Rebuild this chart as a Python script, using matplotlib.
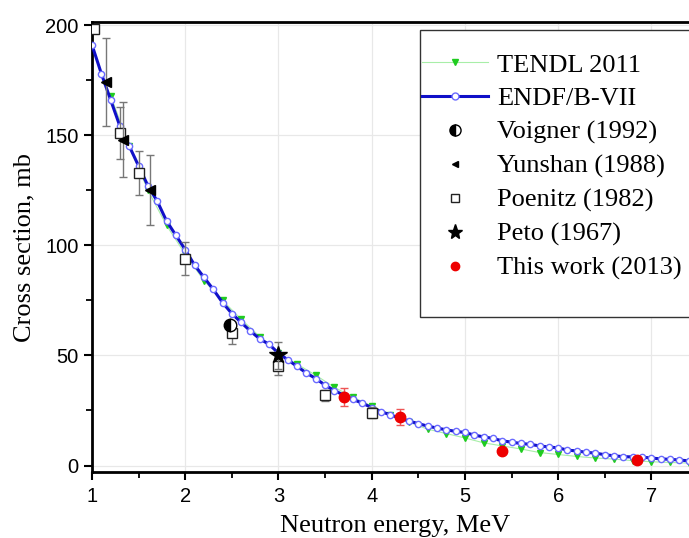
import matplotlib
matplotlib.use("Agg")
import matplotlib.pyplot as plt
from matplotlib.ticker import MultipleLocator
from matplotlib.lines import Line2D
from matplotlib.patches import Rectangle

# ---------------- data ----------------
endf_e = [1.0, 1.1, 1.2, 1.3, 1.4, 1.5, 1.6, 1.7, 1.8, 1.9, 2.0, 2.1, 2.2, 2.3, 2.4,
          2.5, 2.6, 2.7, 2.8, 2.9, 3.0, 3.1, 3.2, 3.3, 3.4, 3.5, 3.6, 3.7, 3.8, 3.9,
          4.0, 4.1, 4.2, 4.3, 4.4, 4.5, 4.6, 4.7, 4.8, 4.9, 5.0, 5.1, 5.2, 5.3, 5.4,
          5.5, 5.6, 5.7, 5.8, 5.9, 6.0, 6.1, 6.2, 6.3, 6.4, 6.5, 6.6, 6.7, 6.8, 6.9,
          7.0, 7.1, 7.2, 7.3, 7.4]
endf_s = [191, 178, 166, 154, 145, 136, 127, 120, 111, 104.5, 98, 91, 85.5, 80, 74,
          69, 65, 61, 57.5, 55, 51, 48, 45, 42, 39.5, 36.5, 34, 32, 30, 28.3,
          26.3, 24.5, 23, 21.5, 20.2, 19, 17.9, 17, 16.2, 15.5, 15, 13.8, 13, 12.3, 11.2,
          10.6, 10, 9.6, 8.9, 8.4, 8, 7, 6.6, 6, 5.6, 4.9, 4.4, 4.0, 3.9, 3.8,
          3.4, 3.0, 2.8, 2.5, 2.1]

tendl_e = [1.2, 1.4, 1.6, 1.8, 2.0, 2.2, 2.4, 2.6, 2.8, 3.0, 3.2, 3.4, 3.6, 3.8, 4.0,
           4.2, 4.4, 4.6, 4.8, 5.0, 5.2, 5.4, 5.6, 5.8, 6.0, 6.2, 6.4, 6.6, 6.8, 7.0,
           7.2, 7.4]
tendl_s = [168, 145, 125, 109, 96, 84, 75, 66.4, 58.5, 51, 46, 41, 35.5, 31, 27,
           23, 19.7, 16.5, 14.5, 12.5, 10.3, 8.9, 7.5, 5.9, 5.0, 4.1, 3.4, 2.9, 2.2, 1.7,
           1.4, 1.1]

voigner_e = [2.48]
voigner_s = [64]

yunshan_e = [1.15, 1.33, 1.62]
yunshan_s = [174, 148, 125]
yunshan_err = [20, 17, 16]

poenitz_e = [1.02, 1.3, 1.5, 2.0, 2.5, 3.0, 3.5, 4.0]
poenitz_s = [198, 151, 133, 94, 60, 45, 32, 24]
poenitz_err = [0, 12, 10, 7.5, 5, 4, 2.5, 2.5]

peto_e = [3.0]
peto_s = [50]
peto_err = [6]

thiswork_e = [3.7, 4.3, 5.4, 6.85]
thiswork_s = [31, 22, 6.5, 2.5]
thiswork_err = [4, 3.8, 0, 0]

legend_labels = ["TENDL 2011", "ENDF/B-VII", "Voigner (1992)", "Yunshan (1988)",
                 "Poenitz (1982)", "Peto (1967)", "This work (2013)"]

# ---------------- figure ----------------
W, H = 689, 538
fig = plt.figure(figsize=(W / 100, H / 100), dpi=100)
ax = fig.add_axes([92 / W, (H - 472) / H, (698 - 92) / W, (472 - 22) / H])

serif = ["Liberation Serif", "DejaVu Serif"]
sans = ["Liberation Sans", "DejaVu Sans"]

ax.grid(True, which="major", color="#e8e8e8", linewidth=0.9, zorder=0)

tendl_style = dict(color="#a8eea8", linewidth=0.8, marker="v",
                   markerfacecolor="#1fcc1f", markeredgecolor="#1fcc1f")
endf_style = dict(color="#1010c8", linewidth=2.2, marker="o",
                  markerfacecolor="white", markeredgecolor="#6a6aff", markeredgewidth=1.0)

ax.plot(tendl_e, tendl_s, markersize=4.5, zorder=3, **tendl_style)
ax.plot(endf_e, endf_s, markersize=4.5, zorder=4, **endf_style)

ax.errorbar(poenitz_e, poenitz_s, yerr=poenitz_err, fmt="s", markersize=6.5,
            markerfacecolor="white", markeredgecolor="#222222", markeredgewidth=1.0,
            ecolor="#777777", elinewidth=1.0, capsize=3, zorder=5)
ax.errorbar(yunshan_e, yunshan_s, yerr=yunshan_err, fmt="<", markersize=6.5,
            color="black", ecolor="#777777", elinewidth=1.0, capsize=3, zorder=6)
ax.plot(voigner_e, voigner_s, linestyle="none", marker="o", markersize=9,
        fillstyle="left", markerfacecolor="black", markerfacecoloralt="white",
        markeredgecolor="black", zorder=6)
ax.errorbar(peto_e, peto_s, yerr=peto_err, fmt="*", markersize=13, color="black",
            ecolor="#777777", elinewidth=1.0, capsize=3, zorder=6)
ax.errorbar(thiswork_e, thiswork_s, yerr=thiswork_err, fmt="o", markersize=7.5,
            color="#ee0000", ecolor="#ee5555", elinewidth=1.0, capsize=3, zorder=7)

ax.set_xlim(1, 7.5)
ax.set_ylim(-2.95, 201.4)
ax.xaxis.set_major_locator(MultipleLocator(1))
ax.xaxis.set_minor_locator(MultipleLocator(0.5))
ax.yaxis.set_major_locator(MultipleLocator(50))
ax.yaxis.set_minor_locator(MultipleLocator(25))
ax.tick_params(which="major", direction="out", length=6, width=1.5, labelsize=14.5)
ax.tick_params(axis="x", which="major", pad=5)
ax.tick_params(which="minor", direction="out", length=4, width=1.3)
for lab in ax.get_xticklabels() + ax.get_yticklabels():
    lab.set_family(sans)
for sp in ax.spines.values():
    sp.set_linewidth(2.0)

ax.set_xlabel("Neutron energy, MeV", fontsize=19, family=serif, labelpad=6)
ax.set_ylabel("Cross section, mb", fontsize=19, family=serif, labelpad=7)

# legend with marker-only proxies (no error bars), framed by a rectangle
handles = [
    Line2D([], [], markersize=5, **tendl_style),
    Line2D([], [], markersize=5, **endf_style),
    Line2D([], [], linestyle="none", marker="o", markersize=8, fillstyle="left",
           markerfacecolor="black", markerfacecoloralt="white", markeredgecolor="black"),
    Line2D([], [], linestyle="none", marker="<", markersize=5, color="black"),
    Line2D([], [], linestyle="none", marker="s", markersize=5.5, markerfacecolor="white",
           markeredgecolor="#222222", markeredgewidth=1.0),
    Line2D([], [], linestyle="none", marker="*", markersize=11, color="black"),
    Line2D([], [], linestyle="none", marker="o", markersize=6, color="#ee0000"),
]
leg = ax.legend(handles, legend_labels, loc="upper left",
                bbox_to_anchor=(0.5446, 0.931), borderaxespad=0, frameon=False,
                prop={"family": serif, "size": 19},
                handlelength=2.5, handletextpad=0.35, labelspacing=0.385,
                borderpad=0)
frame = Rectangle((0.541, 0.344), 0.6, 0.982 - 0.344, transform=ax.transAxes,
                  facecolor="white", edgecolor="#333333", linewidth=1.0,
                  clip_on=False, zorder=8)
ax.add_patch(frame)
leg.set_zorder(9)

fig.savefig("out.png", dpi=100)
